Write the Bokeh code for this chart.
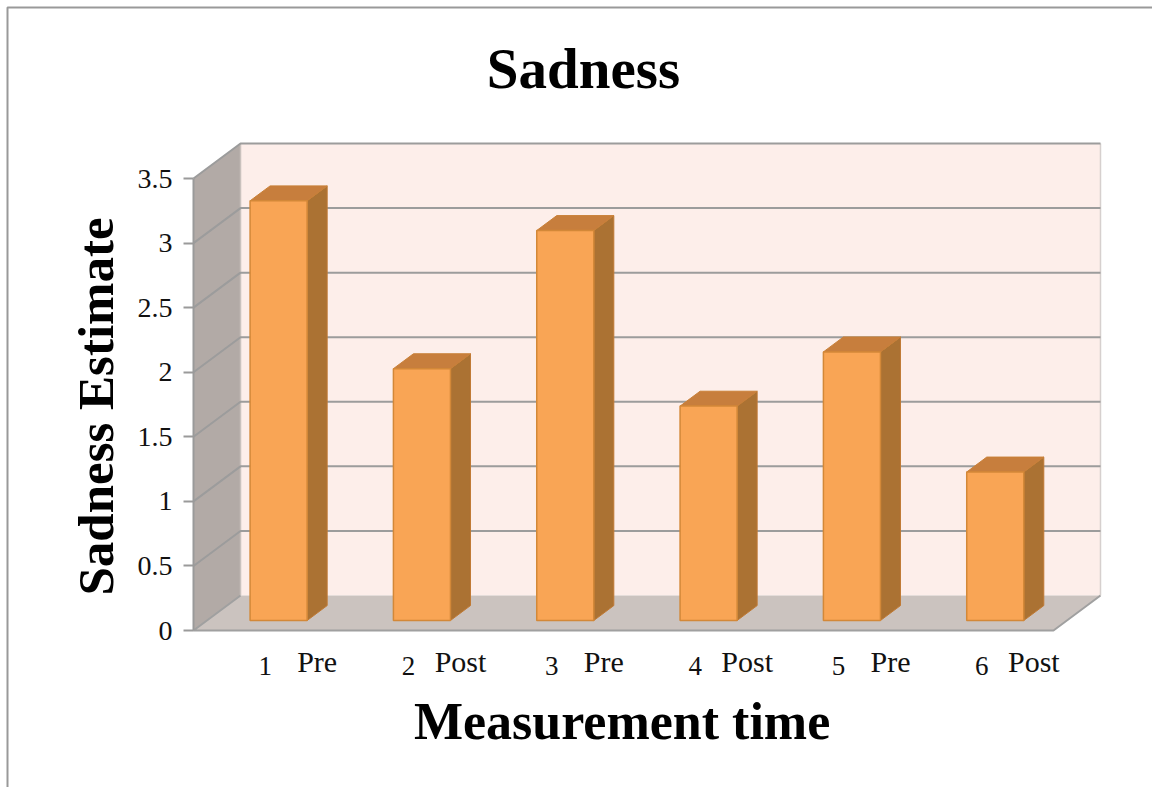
import math
from bokeh.plotting import figure
from bokeh.models import Range1d, ColumnDataSource, FixedTicker, LinearAxis
from bokeh.core.properties import value
from bokeh.embed import file_html
from bokeh.resources import INLINE

# ---------------- data ----------------
categories = ["1", "2", "3", "4", "5", "6"]
phases = ["Pre", "Post", "Pre", "Post", "Pre", "Post"]
values = [3.25, 1.95, 3.02, 1.66, 2.08, 1.15]
y_ticks = [0, 0.5, 1, 1.5, 2, 2.5, 3, 3.5]
y_tick_labels = ["0", "0.5", "1", "1.5", "2", "2.5", "3", "3.5"]
chart_title = "Sadness"
x_title = "Measurement time"
y_title = "Sadness Estimate"

# ---------------- geometry / style ----------------
N = len(categories)
YMAX = y_ticks[-1]
DX = 0.328   # depth shift (category units)
DY = 0.271   # depth shift (value units)
D0, D1 = 0.286, 0.712  # bar depth span
BAR_W = 0.398
SERIF = "Liberation Serif"

W, H = 1152, 787
PX_X, PX_Y = 143.33, 129.14   # pixels per unit
X0, Y0 = 193, 630             # canvas position of the data origin

p = figure(width=W, height=H, title=None,
           x_range=Range1d(-X0 / PX_X, (W - X0) / PX_X),
           y_range=Range1d((Y0 - H) / PX_Y, Y0 / PX_Y),
           output_backend="svg", toolbar_location=None,
           x_axis_location=None, y_axis_location=None,
           min_border=0, min_border_left=0, min_border_right=0,
           min_border_top=0, min_border_bottom=0)
p.outline_line_color = None
p.background_fill_color = "white"
p.border_fill_color = "white"
p.xgrid.visible = False
p.ygrid.visible = False

# outer chart frame (left and top edges visible)
fx0 = (7 - X0) / PX_X
fy0 = (Y0 - 7) / PX_Y
p.line([fx0, fx0, (W + 10 - X0) / PX_X], [(Y0 - H - 10) / PX_Y, fy0, fy0],
       line_color="#999999", line_width=2)

# ---------------- walls & floor ----------------
p.patch([DX, N + DX, N + DX, DX], [DY, DY, YMAX + DY, YMAX + DY],
        fill_color="#fdeeea", line_color=None)
p.patch([0, DX, DX, 0], [0, DY, YMAX + DY, YMAX],
        fill_color="#b2aaa6", line_color=None)
p.patch([0, N, N + DX, DX], [0, 0, DY, DY],
        fill_color="#cbc3bf", line_color=None)

p.line([DX, DX], [DY, YMAX + DY], line_color="#c9c1bd", line_width=1.5)
p.line([N + DX, N + DX], [DY, YMAX + DY], line_color="#d6d0ce", line_width=1.5)

grid_xs = [[0, DX, N + DX] for t in y_ticks[1:]]
grid_ys = [[t, t + DY, t + DY] for t in y_ticks[1:]]
p.multi_line(grid_xs, grid_ys, line_color="#9c9c9c", line_width=2)

p.line([DX, 0, N, N + DX], [DY, 0, 0, DY], line_color="#a0a0a0", line_width=2)

# ---------------- y axis ----------------
ax = LinearAxis(fixed_location=0)
ax.ticker = FixedTicker(ticks=y_ticks)
ax.bounds = (0, YMAX)
ax.major_label_overrides = {float(t): s for t, s in zip(y_ticks, y_tick_labels)}
ax.axis_line_color = "#9a9a9a"
ax.axis_line_width = 2
ax.major_tick_line_color = "#9a9a9a"
ax.major_tick_line_width = 2
ax.major_tick_out = 10
ax.major_tick_in = 0
ax.minor_tick_line_color = None
ax.major_label_text_font = SERIF
ax.major_label_text_font_size = "28px"
ax.major_label_text_color = "#111111"
ax.major_label_standoff = 11
p.add_layout(ax, "left")

# ---------------- bars ----------------
fx, fy, tx, ty, sx, sy = [], [], [], [], [], []
for i, v in enumerate(values):
    xl = i + 0.5 - BAR_W / 2
    xr = xl + BAR_W
    fx.append([xl + D0 * DX, xr + D0 * DX, xr + D0 * DX, xl + D0 * DX])
    fy.append([D0 * DY, D0 * DY, v + D0 * DY, v + D0 * DY])
    tx.append([xl + D0 * DX, xr + D0 * DX, xr + D1 * DX, xl + D1 * DX])
    ty.append([v + D0 * DY, v + D0 * DY, v + D1 * DY, v + D1 * DY])
    sx.append([xr + D0 * DX, xr + D1 * DX, xr + D1 * DX, xr + D0 * DX])
    sy.append([D0 * DY, D1 * DY, v + D1 * DY, v + D0 * DY])

p.patches(sx, sy, fill_color="#ab7233", line_color="#c07a35", line_width=1)
p.patches(tx, ty, fill_color="#c77e3d", line_color="#c98038", line_width=1)
p.patches(fx, fy, fill_color="#f9a555", line_color="#d38838", line_width=1.5)

# ---------------- category labels ----------------
lab_src = ColumnDataSource(dict(
    x=[i + 0.5 for i in range(N)],
    num_y=[-0.278] * N,
    word_y=[-0.24] * N,
    num=categories,
    word=phases,
))
p.text(x="x", y="num_y", text="num", source=lab_src,
       text_align="center", text_baseline="alphabetic",
       text_font=value(SERIF), text_font_size="27px", text_color="#111111")
p.text(x="x", y="word_y", text="word", source=lab_src, x_offset=52,
       text_align="center", text_baseline="alphabetic",
       text_font=value(SERIF), text_font_size="30px", text_color="#111111")

# ---------------- titles ----------------
p.text(x=[2.721], y=[4.352], text=[chart_title], text_align="center",
       text_baseline="alphabetic", text_font=value(SERIF),
       text_font_size="57px", text_font_style="bold", text_color="black")
p.text(x=[2.99], y=[-0.702], text=[x_title], text_align="center",
       text_baseline="alphabetic", text_font=value(SERIF),
       text_font_size="52px", text_font_style="bold", text_color="black")
p.text(x=[-0.677], y=[1.735], text=[y_title], angle=math.pi / 2,
       text_align="center", text_baseline="alphabetic",
       text_font=value(SERIF), text_font_size="51px",
       text_font_style="bold", text_color="black")

open("out.html", "w").write(file_html(p, INLINE))
